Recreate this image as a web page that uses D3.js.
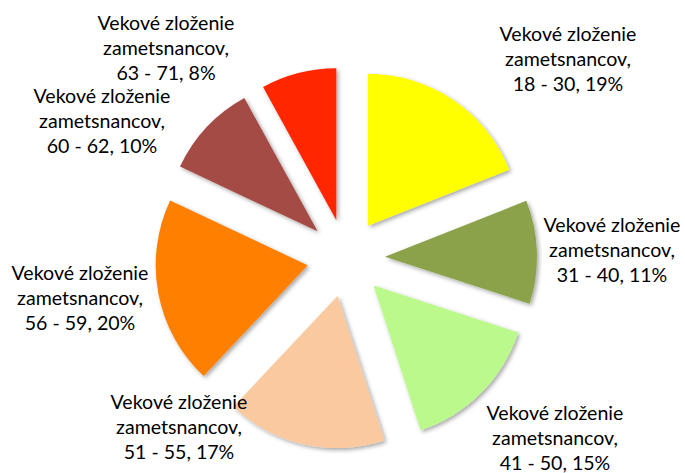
<!DOCTYPE html>
<html>
<head>
<meta charset="utf-8">
<script src="https://cdn.jsdelivr.net/npm/d3@7"></script>
<style>
  html, body { margin: 0; padding: 0; background: #fff; }
  svg { display: block; }
</style>
</head>
<body>
<div id="chart"></div>
<script>
// data
const series = "Vekové zloženie zametsnancov";
const groups = ["18 - 30", "31 - 40", "41 - 50", "51 - 55", "56 - 59", "60 - 62", "63 - 71"];
const shares = [19, 11, 15, 17, 20, 10, 8];
const colors = ["#FFFF00", "#8BA24C", "#BBF98C", "#FAC9A0", "#FF7F00", "#A44B45", "#FF2600"];

// label centers (layout only)
const labelPos = [[568, 61], [612, 252], [555, 440], [179, 429], [80, 300], [102, 123], [166, 50]];

const W = 685, H = 473;
const cx = 346, cy = 258;
const R = 152, explode = 39;

const svg = d3.select("#chart").append("svg")
  .attr("width", W)
  .attr("height", H);

const defs = svg.append("defs");
const f = defs.append("filter").attr("id", "shadow")
  .attr("x", "-20%").attr("y", "-20%").attr("width", "140%").attr("height", "140%");
f.append("feDropShadow")
  .attr("dx", 2).attr("dy", 2)
  .attr("stdDeviation", 2.2)
  .attr("flood-color", "#000")
  .attr("flood-opacity", 0.35);

const pie = d3.pie().sort(null).value(d => d);
const arcs = pie(shares);
const arc = d3.arc().innerRadius(0).outerRadius(R);

const g = svg.append("g").attr("transform", `translate(${cx},${cy})`);

g.selectAll("path")
  .data(arcs)
  .join("path")
  .attr("d", arc)
  .attr("fill", (d, i) => colors[i])
  .attr("filter", "url(#shadow)")
  .attr("transform", d => {
    const a = (d.startAngle + d.endAngle) / 2;
    return `translate(${explode * Math.sin(a)},${-explode * Math.cos(a)})`;
  });

// labels
const lineH = 25;
const labels = svg.selectAll("text.lbl")
  .data(arcs)
  .join("text")
  .attr("class", "lbl")
  .attr("text-anchor", "middle")
  .attr("font-family", "Lato, 'Open Sans', sans-serif")
  .attr("font-size", 20)
  .attr("fill", "#000");

labels.each(function(d, i) {
  const t = d3.select(this);
  const [x, y] = labelPos[i];
  const lines = ["Vekové zloženie", "zametsnancov,", `${groups[i]}, ${d3.format(".0%")(shares[i] / 100)}`];
  lines.forEach((s, k) => {
    t.append("tspan")
      .attr("x", x)
      .attr("y", y + (k - 1) * lineH + 5)
      .text(s);
  });
});

// fit font size so the first line width matches ~137px
const probe = svg.append("text")
  .attr("font-family", "Lato, 'Open Sans', sans-serif")
  .attr("font-size", 20)
  .text("Vekové zloženie");
const w = probe.node().getComputedTextLength();
probe.remove();
labels.attr("font-size", 20 * 137 / w);
</script>
</body>
</html>
